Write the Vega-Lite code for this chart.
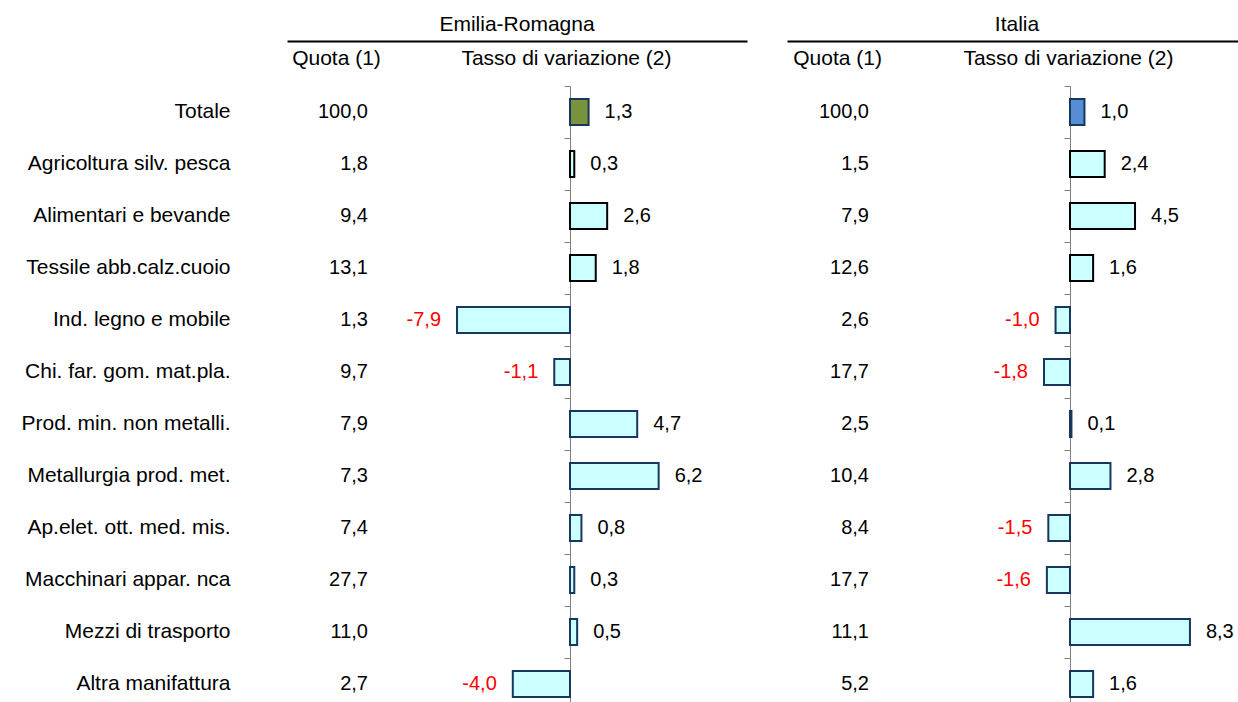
{
  "$schema": "https://vega.github.io/schema/vega-lite/v6.json",
  "background": "white",
  "padding": {"left": 21, "top": 14, "right": 0, "bottom": 0},
  "config": {
    "locale": {"number": {"decimal": ",", "thousands": ".", "grouping": [3], "currency": ["", " €"], "minus": "-"}},
    "view": {"stroke": null},
    "font": "Arial",
    "title": {"font": "Arial", "fontSize": 21, "fontWeight": "normal", "color": "black", "anchor": "middle", "offset": 6, "frame": "group"},
    "axis": {"labelFont": "Arial", "titleFont": "Arial", "labelColor": "black", "titleColor": "black", "titleFontWeight": "normal", "grid": false, "labelLimit": 400}
  },
  "datasets": {
    "rows": [
      {"area": "ER", "cat": "Totale", "quota": 100.0, "tasso": 1.3},
      {"area": "ER", "cat": "Agricoltura silv. pesca", "quota": 1.8, "tasso": 0.3},
      {"area": "ER", "cat": "Alimentari e bevande", "quota": 9.4, "tasso": 2.6},
      {"area": "ER", "cat": "Tessile abb.calz.cuoio", "quota": 13.1, "tasso": 1.8},
      {"area": "ER", "cat": "Ind. legno e mobile", "quota": 1.3, "tasso": -7.9},
      {"area": "ER", "cat": "Chi. far. gom. mat.pla.", "quota": 9.7, "tasso": -1.1},
      {"area": "ER", "cat": "Prod. min. non metalli.", "quota": 7.9, "tasso": 4.7},
      {"area": "ER", "cat": "Metallurgia prod. met.", "quota": 7.3, "tasso": 6.2},
      {"area": "ER", "cat": "Ap.elet. ott. med. mis.", "quota": 7.4, "tasso": 0.8},
      {"area": "ER", "cat": "Macchinari appar. nca", "quota": 27.7, "tasso": 0.3},
      {"area": "ER", "cat": "Mezzi di trasporto", "quota": 11.0, "tasso": 0.5},
      {"area": "ER", "cat": "Altra manifattura", "quota": 2.7, "tasso": -4.0},
      {"area": "IT", "cat": "Totale", "quota": 100.0, "tasso": 1.0},
      {"area": "IT", "cat": "Agricoltura silv. pesca", "quota": 1.5, "tasso": 2.4},
      {"area": "IT", "cat": "Alimentari e bevande", "quota": 7.9, "tasso": 4.5},
      {"area": "IT", "cat": "Tessile abb.calz.cuoio", "quota": 12.6, "tasso": 1.6},
      {"area": "IT", "cat": "Ind. legno e mobile", "quota": 2.6, "tasso": -1.0},
      {"area": "IT", "cat": "Chi. far. gom. mat.pla.", "quota": 17.7, "tasso": -1.8},
      {"area": "IT", "cat": "Prod. min. non metalli.", "quota": 2.5, "tasso": 0.1},
      {"area": "IT", "cat": "Metallurgia prod. met.", "quota": 10.4, "tasso": 2.8},
      {"area": "IT", "cat": "Ap.elet. ott. med. mis.", "quota": 8.4, "tasso": -1.5},
      {"area": "IT", "cat": "Macchinari appar. nca", "quota": 17.7, "tasso": -1.6},
      {"area": "IT", "cat": "Mezzi di trasporto", "quota": 11.1, "tasso": 8.3},
      {"area": "IT", "cat": "Altra manifattura", "quota": 5.2, "tasso": 1.6}
    ]
  },
  "data": {"name": "rows"},
  "spacing": 40,
  "resolve": {"scale": {"x": "independent", "y": "independent"}},
  "hconcat": [
    {
      "width": 460,
      "height": 624,
      "title": {"text": "Emilia-Romagna", "anchor": "middle", "frame": "group", "offset": 6},
      "transform": [{"filter": "datum.area === 'ER'"}],
      "resolve": {"axis": {"y": "independent"}},
      "layer": [
        {
          "mark": {"type": "text", "align": "right", "baseline": "middle", "fontSize": 20, "font": "Arial", "color": "black"},
          "encoding": {
            "x": {"datum": -14.126, "type": "quantitative", "scale": {"domain": [-19.79, 12.378], "nice": false},
                  "axis": {"orient": "top", "offset": 45, "title": null, "domain": true, "domainColor": "black", "domainWidth": 2, "ticks": false, "tickSize": 0,
                           "values": [-16.364, -0.28], "labelExpr": "datum.value < -5 ? 'Quota (1)' : 'Tasso di variazione (2)'",
                           "labelFontSize": 21, "labelPadding": -17, "labelBaseline": "middle", "labelFlush": false, "labelOverlap": false, "labelBound": false, "labelAlign": "center", "labelLimit": 400}},
            "y": {"field": "cat", "type": "nominal", "sort": null, "scale": {"paddingInner": 0, "paddingOuter": 0},
                  "axis": {"orient": "left", "title": null, "domain": false, "ticks": false, "tickSize": 0, "labelPadding": 57, "labelFontSize": 21, "labelLimit": 400}},
            "text": {"field": "quota", "type": "quantitative", "format": ".1f"}
          }
        },
        {
          "mark": {"type": "bar", "height": {"band": 0.5}, "strokeWidth": 2},
          "encoding": {
            "x": {"field": "tasso", "type": "quantitative", "scale": {"domain": [-19.79, 12.378], "nice": false},
                  "axis": {"orient": "top", "offset": 45, "title": null, "domain": true, "domainColor": "black", "domainWidth": 2, "ticks": false, "tickSize": 0,
                           "values": [-16.364, -0.28], "labelExpr": "datum.value < -5 ? 'Quota (1)' : 'Tasso di variazione (2)'",
                           "labelFontSize": 21, "labelPadding": -17, "labelBaseline": "middle", "labelFlush": false, "labelOverlap": false, "labelBound": false, "labelAlign": "center", "labelLimit": 400}},
            "x2": {"datum": 0},
            "y": {"field": "cat", "type": "nominal", "sort": null, "scale": {"paddingInner": 0, "paddingOuter": 0},
                  "axis": {"orient": "left", "offset": -283, "title": null, "labels": false, "ticks": true, "tickSize": 6, "tickColor": "#7f7f7f", "tickBand": "extent", "domain": true, "domainColor": "#7f7f7f", "domainWidth": 1}},
            "fill": {"condition": {"test": "datum.cat === 'Totale'", "value": "#77933C"}, "value": "#CCFFFF"},
            "stroke": {"condition": {"test": "indexof(['Agricoltura silv. pesca','Alimentari e bevande','Tessile abb.calz.cuoio'], datum.cat) >= 0", "value": "#000000"}, "value": "#17375E"}
          }
        },
        {
          "transform": [{"filter": "datum.tasso >= 0"}],
          "mark": {"type": "text", "align": "left", "baseline": "middle", "dx": 16, "fontSize": 20, "font": "Arial", "color": "black"},
          "encoding": {
            "x": {"field": "tasso", "type": "quantitative", "scale": {"domain": [-19.79, 12.378], "nice": false},
                  "axis": {"orient": "top", "offset": 45, "title": null, "domain": true, "domainColor": "black", "domainWidth": 2, "ticks": false, "tickSize": 0,
                           "values": [-16.364, -0.28], "labelExpr": "datum.value < -5 ? 'Quota (1)' : 'Tasso di variazione (2)'",
                           "labelFontSize": 21, "labelPadding": -17, "labelBaseline": "middle", "labelFlush": false, "labelOverlap": false, "labelBound": false, "labelAlign": "center", "labelLimit": 400}},
            "y": {"field": "cat", "type": "nominal", "sort": null, "scale": {"paddingInner": 0, "paddingOuter": 0}, "axis": null},
            "text": {"field": "tasso", "type": "quantitative", "format": ".1f"}
          }
        },
        {
          "transform": [{"filter": "datum.tasso < 0"}],
          "mark": {"type": "text", "align": "right", "baseline": "middle", "dx": -16, "fontSize": 20, "font": "Arial", "color": "#FF0000"},
          "encoding": {
            "x": {"field": "tasso", "type": "quantitative", "scale": {"domain": [-19.79, 12.378], "nice": false},
                  "axis": {"orient": "top", "offset": 45, "title": null, "domain": true, "domainColor": "black", "domainWidth": 2, "ticks": false, "tickSize": 0,
                           "values": [-16.364, -0.28], "labelExpr": "datum.value < -5 ? 'Quota (1)' : 'Tasso di variazione (2)'",
                           "labelFontSize": 21, "labelPadding": -17, "labelBaseline": "middle", "labelFlush": false, "labelOverlap": false, "labelBound": false, "labelAlign": "center", "labelLimit": 400}},
            "y": {"field": "cat", "type": "nominal", "sort": null, "scale": {"paddingInner": 0, "paddingOuter": 0}, "axis": null},
            "text": {"field": "tasso", "type": "quantitative", "format": ".1f"}
          }
        }
      ]
    },
    {
      "width": 460,
      "height": 624,
      "title": {"text": "Italia", "anchor": "middle", "frame": "group", "offset": 6},
      "transform": [{"filter": "datum.area === 'IT'"}],
      "resolve": {"axis": {"y": "independent"}},
      "layer": [
        {
          "mark": {"type": "text", "align": "right", "baseline": "middle", "fontSize": 20, "font": "Arial", "color": "black"},
          "encoding": {
            "x": {"datum": -13.91, "type": "quantitative", "scale": {"domain": [-19.585, 12.249], "nice": false},
                  "axis": {"orient": "top", "offset": 45, "title": null, "domain": true, "domainColor": "black", "domainWidth": 2, "ticks": false, "tickSize": 0,
                           "values": [-16.12, -0.14], "labelExpr": "datum.value < -5 ? 'Quota (1)' : 'Tasso di variazione (2)'",
                           "labelFontSize": 21, "labelPadding": -17, "labelBaseline": "middle", "labelFlush": false, "labelOverlap": false, "labelBound": false, "labelAlign": "center", "labelLimit": 400}},
            "y": {"field": "cat", "type": "nominal", "sort": null, "scale": {"paddingInner": 0, "paddingOuter": 0}, "axis": null},
            "text": {"field": "quota", "type": "quantitative", "format": ".1f"}
          }
        },
        {
          "mark": {"type": "bar", "height": {"band": 0.5}, "strokeWidth": 2},
          "encoding": {
            "x": {"field": "tasso", "type": "quantitative", "scale": {"domain": [-19.585, 12.249], "nice": false},
                  "axis": {"orient": "top", "offset": 45, "title": null, "domain": true, "domainColor": "black", "domainWidth": 2, "ticks": false, "tickSize": 0,
                           "values": [-16.12, -0.14], "labelExpr": "datum.value < -5 ? 'Quota (1)' : 'Tasso di variazione (2)'",
                           "labelFontSize": 21, "labelPadding": -17, "labelBaseline": "middle", "labelFlush": false, "labelOverlap": false, "labelBound": false, "labelAlign": "center", "labelLimit": 400}},
            "x2": {"datum": 0},
            "y": {"field": "cat", "type": "nominal", "sort": null, "scale": {"paddingInner": 0, "paddingOuter": 0},
                  "axis": {"orient": "left", "offset": -283, "title": null, "labels": false, "ticks": true, "tickSize": 6, "tickColor": "#7f7f7f", "tickBand": "extent", "domain": true, "domainColor": "#7f7f7f", "domainWidth": 1}},
            "fill": {"condition": {"test": "datum.cat === 'Totale'", "value": "#558ED5"}, "value": "#CCFFFF"},
            "stroke": {"condition": {"test": "indexof(['Agricoltura silv. pesca','Alimentari e bevande','Tessile abb.calz.cuoio'], datum.cat) >= 0", "value": "#000000"}, "value": "#17375E"}
          }
        },
        {
          "transform": [{"filter": "datum.tasso >= 0"}],
          "mark": {"type": "text", "align": "left", "baseline": "middle", "dx": 16, "fontSize": 20, "font": "Arial", "color": "black"},
          "encoding": {
            "x": {"field": "tasso", "type": "quantitative", "scale": {"domain": [-19.585, 12.249], "nice": false},
                  "axis": {"orient": "top", "offset": 45, "title": null, "domain": true, "domainColor": "black", "domainWidth": 2, "ticks": false, "tickSize": 0,
                           "values": [-16.12, -0.14], "labelExpr": "datum.value < -5 ? 'Quota (1)' : 'Tasso di variazione (2)'",
                           "labelFontSize": 21, "labelPadding": -17, "labelBaseline": "middle", "labelFlush": false, "labelOverlap": false, "labelBound": false, "labelAlign": "center", "labelLimit": 400}},
            "y": {"field": "cat", "type": "nominal", "sort": null, "scale": {"paddingInner": 0, "paddingOuter": 0}, "axis": null},
            "text": {"field": "tasso", "type": "quantitative", "format": ".1f"}
          }
        },
        {
          "transform": [{"filter": "datum.tasso < 0"}],
          "mark": {"type": "text", "align": "right", "baseline": "middle", "dx": -16, "fontSize": 20, "font": "Arial", "color": "#FF0000"},
          "encoding": {
            "x": {"field": "tasso", "type": "quantitative", "scale": {"domain": [-19.585, 12.249], "nice": false},
                  "axis": {"orient": "top", "offset": 45, "title": null, "domain": true, "domainColor": "black", "domainWidth": 2, "ticks": false, "tickSize": 0,
                           "values": [-16.12, -0.14], "labelExpr": "datum.value < -5 ? 'Quota (1)' : 'Tasso di variazione (2)'",
                           "labelFontSize": 21, "labelPadding": -17, "labelBaseline": "middle", "labelFlush": false, "labelOverlap": false, "labelBound": false, "labelAlign": "center", "labelLimit": 400}},
            "y": {"field": "cat", "type": "nominal", "sort": null, "scale": {"paddingInner": 0, "paddingOuter": 0}, "axis": null},
            "text": {"field": "tasso", "type": "quantitative", "format": ".1f"}
          }
        }
      ]
    }
  ]
}
